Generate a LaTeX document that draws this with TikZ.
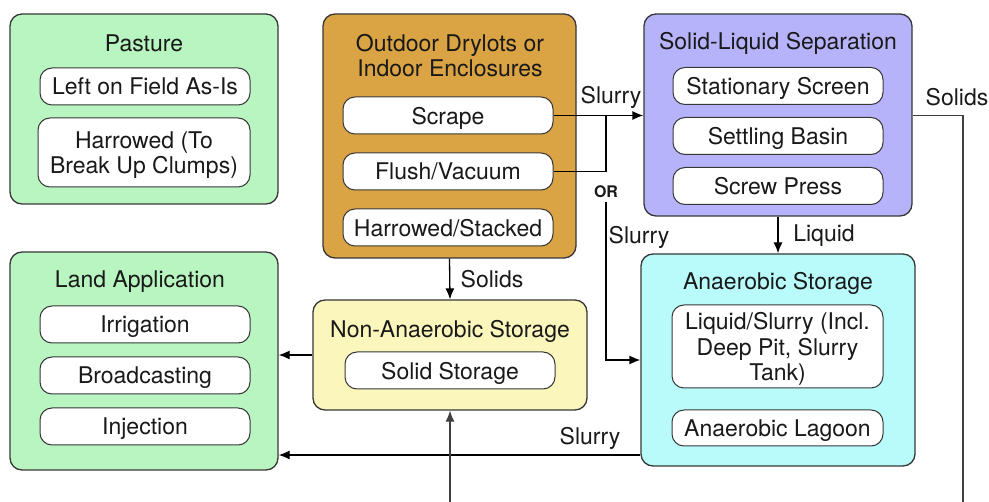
\documentclass[tikz,border=0pt]{standalone}
\usepackage{fontspec}
\setmainfont{TeX Gyre Heros}
\usetikzlibrary{arrows.meta}
\definecolor{pastureG}{RGB}{184,245,192}
\definecolor{dryGold}{RGB}{218,164,68}
\definecolor{sepLav}{RGB}{182,179,250}
\definecolor{nonYel}{RGB}{251,246,188}
\definecolor{anCyan}{RGB}{184,251,250}
\definecolor{edge}{RGB}{55,55,55}
\begin{document}
\begin{tikzpicture}[x=1pt,y=-1pt,
  every node/.style={font=\fontsize{23}{25.5}\selectfont, text=black!90, inner sep=0pt},
  group/.style={draw=edge, line width=1.3pt, rounded corners=12pt},
  item/.style={draw=edge, fill=white, line width=1pt, rounded corners=12pt,
    minimum width=210pt, minimum height=37pt, align=center, text depth=0pt},
  title/.style={align=center},
  flow/.style={draw=black, line width=1.3pt},
  arr/.style={flow, -{Latex[length=11pt,width=9pt]}},
  lbl/.style={}
]
\useasboundingbox (0,0) rectangle (989,502);

% group frames
\node[group, fill=pastureG, minimum width=268pt, minimum height=190pt] (pasture) at (144,109) {};
\node[group, fill=dryGold, minimum width=253pt, minimum height=244pt] (dry) at (449.5,136) {};
\node[group, fill=sepLav, minimum width=268pt, minimum height=202pt] (sep) at (778,115) {};
\node[group, fill=pastureG, minimum width=268pt, minimum height=218pt] (land) at (144,361) {};
\node[group, fill=nonYel, minimum width=274pt, minimum height=110pt] (nonan) at (450,355) {};
\node[group, fill=anCyan, minimum width=274pt, minimum height=212pt] (ans) at (778,360) {};

% titles
\node[title] (tPasture) at (144,43) {Pasture};
\node[title] (tDry) at (450,55.5) {Outdoor Drylots or\\Indoor Enclosures};
\node[title] (tSep) at (778,43) {Solid-Liquid Separation};
\node[title] (tLand) at (140,282) {Land Application};
\node[title] (tNon) at (450,331) {Non-Anaerobic Storage};
\node[title] (tAns) at (778,283) {Anaerobic Storage};

% inner items
\node[item] (asis) at (145,86.5) {Left on Field As-Is};
\node[item, minimum width=212pt, minimum height=69pt] (harrow) at (144,152.5) {Harrowed (To\\Break Up Clumps)};

\node[item] (scrape) at (448,115.5) {Scrape};
\node[item] (flush) at (448,171.5) {Flush/Vacuum};
\node[item] (stacked) at (448,227.5) {Harrowed/Stacked};

\node[item] (screen) at (778,86) {Stationary Screen};
\node[item] (basin) at (778,136) {Settling Basin};
\node[item] (press) at (778,186) {Screw Press};

\node[item] (irr) at (145,324.5) {Irrigation};
\node[item] (broad) at (145,375.5) {Broadcasting};
\node[item] (inj) at (145,426.5) {Injection};

\node[item] (solidst) at (450,370.5) {Solid Storage};

\node[item, minimum width=211pt, minimum height=83pt] (liqsl) at (777.5,346.5) {Liquid/Slurry (Incl.\\Deep Pit, Slurry\\Tank)};
\node[item, minimum width=211pt, minimum height=36pt] (lagoon) at (777.5,428) {Anaerobic Lagoon};

% junction points and off-picture loop ends
\coordinate (join) at (606,115.5);
\coordinate (loopR) at (963,502);
\coordinate (loopL) at (450,502);
\coordinate (ansOut) at ([yshift=-95pt]ans.west);

% connectors
\draw[arr] (scrape.east) -- (sep.west |- scrape.east);
\draw[flow] (flush.east) -| (join);
\node[fill=white, inner sep=4pt, font=\fontsize{16}{18}\selectfont\bfseries] (orlbl) at (606,192) {OR};
\draw[arr] (orlbl.south) |- (ans.west);

\draw[arr] (dry.south) -- (nonan.north);
\draw[arr] (sep.south) -- (ans.north);
\draw[arr] (nonan.west) -- (land.east |- nonan.west);
\draw[arr] (ansOut) -- (land.east |- ansOut);

\draw[flow, draw=black!75, line width=1.1pt] (sep.east |- join) -| (loopR);
\draw[arr, draw=black!75, line width=1.1pt] (loopL) -- (nonan.south);

% connector labels
\node[lbl] (lSlurry1) at (611,97) {Slurry};
\node[lbl] (lSlurry2) at (639,237) {Slurry};
\node[lbl] (lSolids1) at (492,279) {Solids};
\node[lbl] (lLiquid) at (824,236) {Liquid};
\node[lbl] (lSlurry3) at (590,438) {Slurry};
\node[lbl] (lSolids2) at (957,97) {Solids};
\end{tikzpicture}
\end{document}
